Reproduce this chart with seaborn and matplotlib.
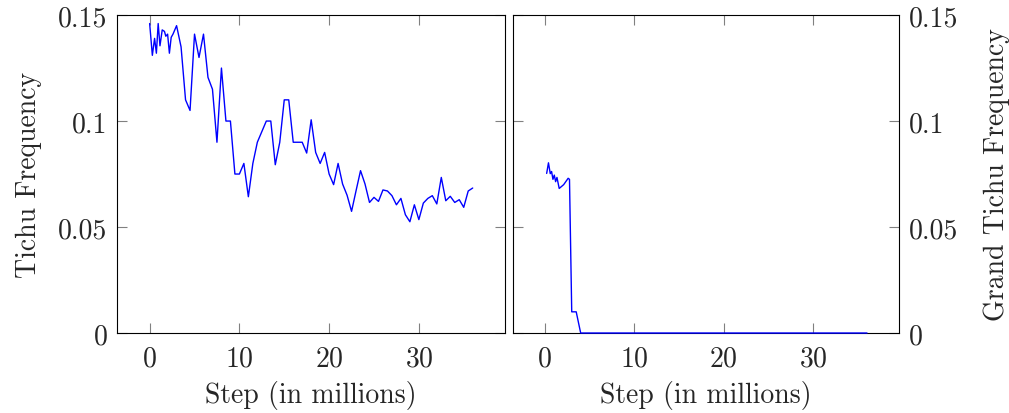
import matplotlib
matplotlib.use("Agg")
import matplotlib.pyplot as plt
import seaborn as sns
from matplotlib.ticker import FuncFormatter

# values (step in millions, frequency)
tichu_steps = [0.0, 0.3, 0.55, 0.75, 0.95, 1.15, 1.4, 1.65, 1.8, 2.0, 2.2, 2.4, 2.6, 3.0,
               3.5, 4.0, 4.5, 5.0, 5.5, 6.0, 6.5, 7.0, 7.5, 8.0, 8.5, 9.0, 9.5, 10.0,
               10.5, 11.0, 11.5, 12.0, 13.0, 13.5, 14.0, 14.5, 15.0, 15.5, 16.0, 17.0,
               17.5, 18.0, 18.5, 19.0, 19.5, 20.0, 20.5, 21.0, 21.5, 22.0, 22.5, 23.0,
               23.5, 24.0, 24.5, 25.0, 25.5, 26.0, 26.5, 27.0, 27.5, 28.0, 28.5, 29.0,
               29.5, 30.0, 30.5, 31.0, 31.5, 32.0, 32.5, 33.0, 33.5, 34.0, 34.5, 35.0,
               35.5, 36.0]
tichu_freq = [0.146, 0.131, 0.139, 0.132, 0.146, 0.1355, 0.143, 0.1423, 0.140, 0.141,
              0.132, 0.1395, 0.141, 0.145, 0.135, 0.110, 0.105, 0.141, 0.130, 0.141,
              0.1206, 0.115, 0.090, 0.125, 0.100, 0.100, 0.075, 0.075, 0.080, 0.0643,
              0.080, 0.090, 0.100, 0.100, 0.0794, 0.090, 0.110, 0.110, 0.090, 0.090,
              0.0849, 0.1006, 0.0852, 0.080, 0.0852, 0.075, 0.070, 0.080, 0.0703, 0.065,
              0.0574, 0.0671, 0.0766, 0.0703, 0.0616, 0.064, 0.0621, 0.0675, 0.067,
              0.0648, 0.0605, 0.0635, 0.0558, 0.0525, 0.0605, 0.0535, 0.0613, 0.0635,
              0.0648, 0.0609, 0.0734, 0.0624, 0.0645, 0.0616, 0.0629, 0.0593, 0.067,
              0.0684]

grand_steps = [0.2, 0.4, 0.6, 0.75, 0.9, 1.05, 1.2, 1.35, 1.6, 2.1, 2.6, 2.75, 3.0, 3.5,
               4.0, 36.0]
grand_freq = [0.0753, 0.0803, 0.0752, 0.0762, 0.0725, 0.0745, 0.0714, 0.0734, 0.0682,
              0.070, 0.073, 0.0725, 0.010, 0.010, 0.0, 0.0]

x_ticks = [0, 10, 20, 30]
y_ticks = [0, 0.05, 0.1, 0.15]

sns.set_style("ticks")
plt.rcParams["font.family"] = ["cmr10", "DejaVu Serif"]
plt.rcParams["mathtext.fontset"] = "cm"
plt.rcParams["axes.formatter.use_mathtext"] = True


def _style_axis(axis):
    """Give an axis the pgfplots-like look of the reference"""
    axis.set_xlim(-3.6, 39.6)
    axis.set_ylim(0, 0.15)
    axis.set_xticks(x_ticks)
    axis.set_yticks(y_ticks)
    axis.yaxis.set_major_formatter(FuncFormatter(lambda v, p: "{:g}".format(v)))
    axis.tick_params(direction="in", length=7, width=0.8, color="0.5",
                     top=True, bottom=True, left=True, right=True, labelsize=20)
    axis.tick_params(axis="x", pad=9)
    axis.tick_params(axis="y", pad=7)
    for spine in axis.spines.values():
        spine.set_color("black")
        spine.set_linewidth(0.8)
    axis.set_xlabel("Step (in millions)", fontsize=20, labelpad=6)


fig = plt.figure(figsize=(10.09, 4.14), dpi=100)
ax_left = fig.add_axes([0.1163, 0.1932, 0.3842, 0.768])
ax_right = fig.add_axes([0.5081, 0.1932, 0.3831, 0.768])

sns.lineplot(x=tichu_steps, y=tichu_freq, ax=ax_left, color="blue", linewidth=1.0)
sns.lineplot(x=grand_steps, y=grand_freq, ax=ax_right, color="blue", linewidth=1.0,
             clip_on=False, zorder=3)

_style_axis(ax_left)
_style_axis(ax_right)
ax_left.set_ylabel("Tichu Frequency", fontsize=20, labelpad=12)
ax_right.tick_params(labelleft=False, labelright=True)
ax_right.yaxis.set_label_position("right")
ax_right.set_ylabel("Grand Tichu Frequency", fontsize=20, labelpad=18)

fig.savefig("out.png", dpi=100)
